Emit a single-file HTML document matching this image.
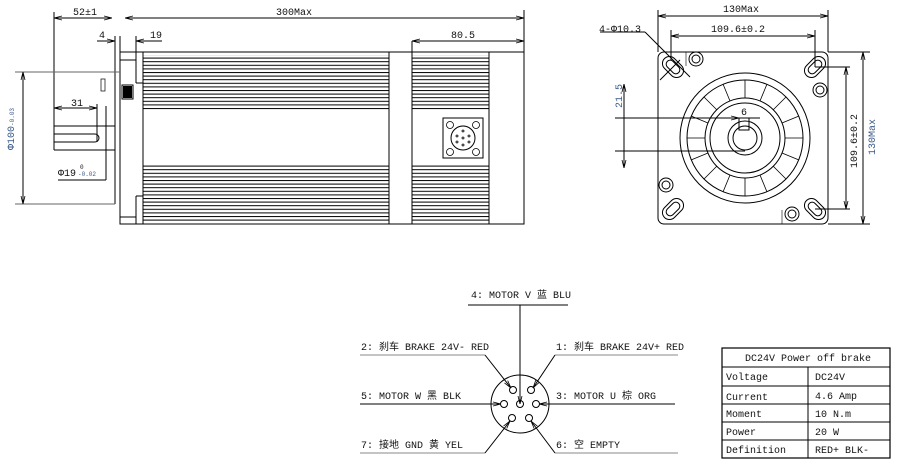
<!DOCTYPE html>
<html><head><meta charset="utf-8"><style>
html,body{margin:0;padding:0;background:#fff;}
svg{display:block;font-family:"Liberation Mono","Noto Sans CJK SC",monospace;}
text{font-size:10px;fill:#111;}
.b{fill:#3a5a88;}
</style></head><body>
<svg width="902" height="468" viewBox="0 0 902 468" xmlns="http://www.w3.org/2000/svg">
<defs>
<pattern id="fin" width="10" height="3.6" patternUnits="userSpaceOnUse"><line x1="0" y1="0.5" x2="10" y2="0.5" stroke="#000" stroke-width="1"/></pattern>
<marker id="ar" markerWidth="8" markerHeight="6" refX="8" refY="3" orient="auto-start-reverse" markerUnits="userSpaceOnUse"><path d="M0,1 L8,3 L0,5" fill="none" stroke="#000" stroke-width="0.8"/></marker>
<g id="slot" fill="none" stroke="#000" stroke-width="1"><rect x="-12" y="-7" width="24" height="14" rx="7"/><rect x="-8" y="-4" width="16" height="8" rx="4"/></g>
</defs>
<g stroke="#000" stroke-width="1" fill="none">
<line x1="54" y1="12" x2="54" y2="150"/>
<line x1="524" y1="10" x2="524" y2="52"/>
<line x1="54" y1="18" x2="112" y2="18" marker-start="url(#ar)" marker-end="url(#ar)"/>
<line x1="125" y1="18" x2="524" y2="18" marker-start="url(#ar)" marker-end="url(#ar)"/>
<line x1="97" y1="41" x2="115" y2="41" marker-end="url(#ar)"/>
<line x1="136" y1="41" x2="162" y2="41" marker-start="url(#ar)"/>
<line x1="412" y1="41" x2="524" y2="41" marker-start="url(#ar)" marker-end="url(#ar)"/>
<line x1="412" y1="41" x2="412" y2="52"/>
<rect x="120" y="52" width="404" height="172"/>
<line x1="115" y1="36" x2="115" y2="204"/>
<line x1="120" y1="36" x2="120" y2="52"/>
<line x1="136" y1="36" x2="136" y2="83"/>
<line x1="136" y1="196" x2="136" y2="224"/>
<line x1="143" y1="52" x2="143" y2="224"/>
<line x1="120" y1="60" x2="136" y2="60"/>
<line x1="120" y1="217" x2="136" y2="217"/>
<line x1="136" y1="83" x2="143" y2="83"/>
<line x1="136" y1="196" x2="143" y2="196"/>
<rect x="122" y="85" width="11" height="14"/>
<line x1="389" y1="52" x2="389" y2="224"/>
<line x1="412" y1="52" x2="412" y2="224"/>
<line x1="489" y1="52" x2="489" y2="224"/>
<rect x="443" y="118" width="40" height="40"/>
<circle cx="463" cy="138" r="12"/>
</g>
<rect x="123" y="86" width="9" height="12" fill="#000"/>
<rect x="143" y="55" width="246" height="56" fill="url(#fin)"/>
<rect x="143" y="165" width="246" height="58" fill="url(#fin)"/>
<rect x="412" y="55" width="77" height="56" fill="url(#fin)"/>
<rect x="412" y="165" width="77" height="58" fill="url(#fin)"/>
<g fill="none" stroke="#000" stroke-width="0.8">
<circle cx="450" cy="125" r="3.5"/><circle cx="476" cy="125" r="3.5"/><circle cx="450" cy="152" r="3.5"/><circle cx="476" cy="152" r="3.5"/>
<circle cx="463" cy="131" r="1"/><circle cx="457" cy="136" r="1"/><circle cx="469" cy="136" r="1"/><circle cx="463" cy="138" r="1"/><circle cx="457" cy="142" r="1"/><circle cx="469" cy="142" r="1"/><circle cx="463" cy="145" r="1"/>
</g>
<g stroke="#000" stroke-width="1" fill="none">
<line x1="54" y1="126" x2="115" y2="126"/>
<line x1="54" y1="150" x2="115" y2="150"/>
<path d="M54,134 H95 A4,4 0 0 1 95,142 H54"/>
<line x1="97" y1="104" x2="97" y2="142"/>
<line x1="106" y1="106" x2="106" y2="180"/>
<line x1="54" y1="108" x2="97" y2="108" marker-start="url(#ar)" marker-end="url(#ar)"/>
<line x1="58" y1="180" x2="106" y2="180"/>
<rect x="101" y="79" width="4" height="12" stroke-width="0.7"/>
<line x1="15" y1="72" x2="120" y2="72" stroke="#666"/>
<line x1="15" y1="204" x2="115" y2="204" stroke="#666"/>
<line x1="23" y1="72" x2="23" y2="204" marker-start="url(#ar)" marker-end="url(#ar)"/>
</g>
<text x="73" y="15">52±1</text>
<text x="276" y="15">300Max</text>
<text x="99" y="38">4</text>
<text x="150" y="38">19</text>
<text x="451" y="38">80.5</text>
<text x="71" y="106">31</text>
<text x="58" y="176">Φ19</text><text x="80" y="169" style="font-size:6px">0</text><text x="78" y="176" style="font-size:6px" class="b">-0.02</text>
<text transform="translate(14,150) rotate(-90)" class="b">Φ100<tspan style="font-size:6px">-0.03</tspan></text>

<g stroke="#000" stroke-width="1" fill="none">
<line x1="658" y1="10" x2="658" y2="52"/>
<line x1="828" y1="10" x2="828" y2="52"/>
<line x1="658" y1="16" x2="828" y2="16" marker-start="url(#ar)" marker-end="url(#ar)"/>
<line x1="671" y1="30" x2="671" y2="60"/>
<line x1="815" y1="30" x2="815" y2="67"/>
<line x1="671" y1="36" x2="815" y2="36" marker-start="url(#ar)" marker-end="url(#ar)"/>
<path d="M664,52 H822 A6,6 0 0 1 828,58 V218 A6,6 0 0 1 822,224 H664 A6,6 0 0 1 658,218 V58 A6,6 0 0 1 664,52 Z"/>
<line x1="828" y1="52" x2="870" y2="52"/>
<line x1="828" y1="224" x2="870" y2="224"/>
<line x1="863" y1="52" x2="863" y2="224" marker-start="url(#ar)" marker-end="url(#ar)"/>
<line x1="815" y1="67" x2="850" y2="67"/>
<line x1="815" y1="209" x2="850" y2="209"/>
<line x1="846" y1="67" x2="846" y2="209" marker-start="url(#ar)" marker-end="url(#ar)"/>
<circle cx="745" cy="138" r="65"/>
<circle cx="745" cy="138" r="58"/>
<circle cx="745" cy="138" r="40"/>
<circle cx="745" cy="138" r="35"/>
<circle cx="745" cy="138" r="17"/>
<circle cx="745" cy="138" r="12"/>
<rect x="739" y="118" width="10" height="12"/>
<g transform="translate(745,138)">
<path d="M0,-40 V-58 M0,40 V58 M-40,0 H-58 M40,0 H58 M28,-28 L41,-41 M-28,-28 L-41,-41 M28,28 L41,41 M-28,28 L-41,41 M15,-37 L22,-54 M-15,-37 L-22,-54 M15,37 L22,54 M-15,37 L-22,54 M37,15 L54,22 M-37,15 L-54,22 M37,-15 L54,-22 M-37,-15 L-54,-22" stroke-width="0.8"/>
</g>
<use href="#slot" transform="translate(673,67) rotate(45)"/>
<use href="#slot" transform="translate(815,67) rotate(-45)"/>
<use href="#slot" transform="translate(673,209) rotate(-45)"/>
<use href="#slot" transform="translate(815,209) rotate(45)"/>
<circle cx="696" cy="59" r="7"/><circle cx="696" cy="59" r="4"/>
<circle cx="820" cy="90" r="7"/><circle cx="820" cy="90" r="4"/>
<circle cx="666" cy="185" r="7"/><circle cx="666" cy="185" r="4"/>
<circle cx="792" cy="214" r="7"/><circle cx="792" cy="214" r="4"/>
<line x1="686" y1="52" x2="686" y2="66" stroke-width="0.6"/>
<line x1="782" y1="210" x2="782" y2="224" stroke-width="0.6"/>
<line x1="600" y1="32" x2="645" y2="32"/>
<line x1="645" y1="32" x2="690" y2="77"/>
<line x1="660" y1="80" x2="680" y2="60"/>
<line x1="615" y1="118" x2="760" y2="118"/>
<line x1="615" y1="151" x2="745" y2="151"/>
<line x1="624" y1="84" x2="624" y2="168" marker-start="url(#ar)" marker-end="url(#ar)"/>
<line x1="736" y1="118" x2="739" y2="118" marker-end="url(#ar)"/>
</g>
<text x="723" y="12">130Max</text>
<text x="711" y="32">109.6±0.2</text>
<text x="599" y="32">4-Φ10.3</text>
<text x="741" y="115">6</text>
<text transform="translate(622,108) rotate(-90)" class="b">21.5</text>
<text transform="translate(857,168) rotate(-90)">109.6±0.2</text>
<text transform="translate(875,155) rotate(-90)" class="b">130Max</text>

<g stroke="#000" stroke-width="1" fill="none">
<line x1="468" y1="305" x2="568" y2="305"/>
<line x1="520" y1="305" x2="520" y2="404" marker-end="url(#ar)"/>
<circle cx="520" cy="404" r="29"/>
<circle cx="513" cy="390" r="3.5"/><circle cx="531" cy="390" r="3.5"/>
<circle cx="504" cy="404" r="3.5"/><circle cx="520" cy="404" r="3.5"/><circle cx="536" cy="404" r="3.5"/>
<circle cx="512" cy="418" r="3.5"/><circle cx="529" cy="418" r="3.5"/>
<line x1="360" y1="355" x2="485" y2="355" stroke="#888"/>
<line x1="485" y1="355" x2="511" y2="388" marker-end="url(#ar)"/>
<line x1="555" y1="355" x2="678" y2="355" stroke="#888"/>
<line x1="555" y1="355" x2="533" y2="388" marker-end="url(#ar)"/>
<line x1="360" y1="404" x2="501" y2="404" marker-end="url(#ar)"/>
<line x1="539" y1="404" x2="675" y2="404" marker-start="url(#ar)"/>
<line x1="360" y1="453" x2="485" y2="453" stroke="#888"/>
<line x1="485" y1="453" x2="510" y2="421" marker-end="url(#ar)"/>
<line x1="555" y1="453" x2="678" y2="453" stroke="#888"/>
<line x1="555" y1="453" x2="531" y2="421" marker-end="url(#ar)"/>
</g>
<text x="471" y="298">4: MOTOR V 蓝 BLU</text>
<text x="361" y="350">2: 刹车 BRAKE 24V- RED</text>
<text x="556" y="350">1: 刹车 BRAKE 24V+ RED</text>
<text x="361" y="399">5: MOTOR W 黑 BLK</text>
<text x="556" y="399">3: MOTOR U 棕 ORG</text>
<text x="361" y="448">7: 接地 GND 黄 YEL</text>
<text x="556" y="448">6: 空 EMPTY</text>

<g stroke="#000" stroke-width="1" fill="none">
<rect x="722" y="348" width="168" height="110" stroke-width="1.2"/>
<line x1="722" y1="367" x2="890" y2="367"/>
<line x1="722" y1="386" x2="890" y2="386"/>
<line x1="722" y1="404" x2="890" y2="404"/>
<line x1="722" y1="422" x2="890" y2="422"/>
<line x1="722" y1="440" x2="890" y2="440"/>
<line x1="808" y1="367" x2="808" y2="458"/>
</g>
<text x="745" y="361">DC24V Power off brake</text>
<text x="726" y="380">Voltage</text><text x="815" y="380">DC24V</text>
<text x="726" y="400">Current</text><text x="815" y="399">4.6 Amp</text>
<text x="726" y="417">Moment</text><text x="815" y="417">10 N.m</text>
<text x="726" y="435">Power</text><text x="815" y="435">20 W</text>
<text x="726" y="453">Definition</text><text x="815" y="453">RED+ BLK-</text>
</svg>
</body></html>
